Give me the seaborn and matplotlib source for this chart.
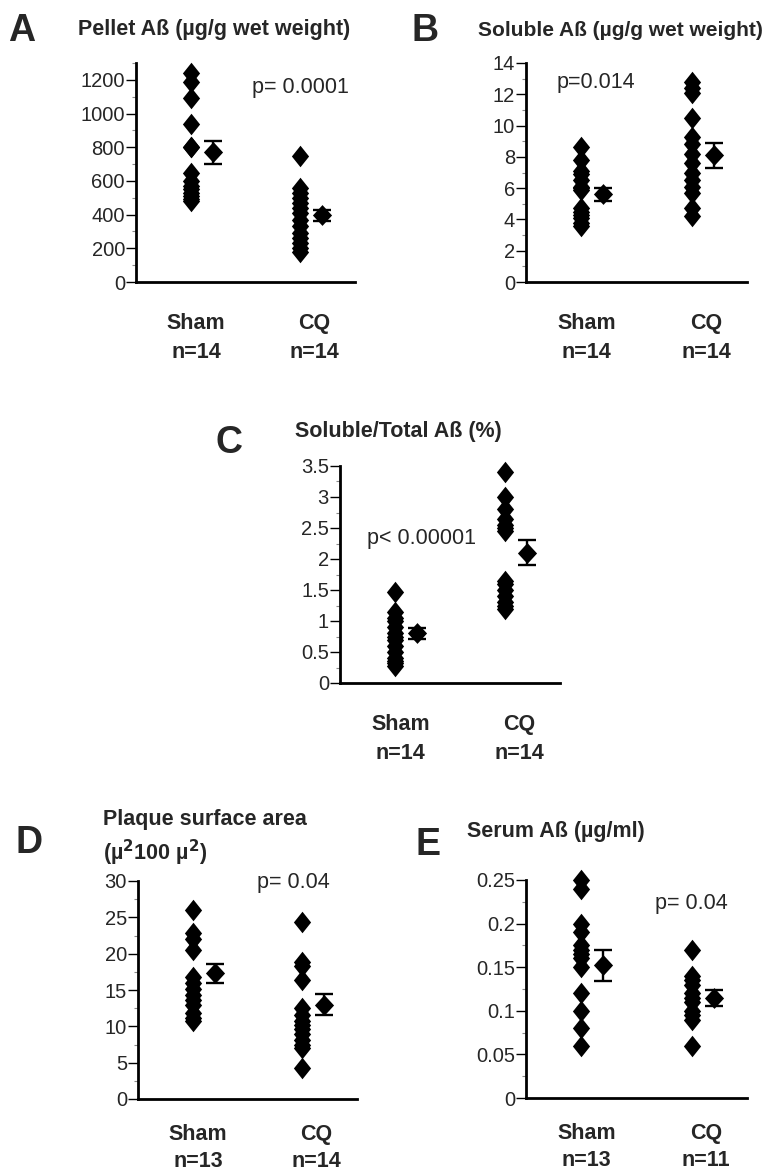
import numpy as np
import pandas as pd
import matplotlib
matplotlib.use("Agg")
import matplotlib.pyplot as plt
import seaborn as sns
from matplotlib.ticker import MultipleLocator

# Individual values (Sham / CQ)
groups = ["Sham", "CQ"]

pellet_sham = [1240, 1185, 1090, 940, 800, 800, 650, 600, 570, 550, 530, 510, 490, 480]
pellet_cq = [750, 560, 530, 500, 470, 440, 410, 370, 330, 290, 260, 230, 200, 180]
pellet_mean = [770, 395]
pellet_sem = [68, 35]

soluble_sham = [8.6, 7.8, 7.1, 6.9, 6.5, 6.1, 6.0, 5.9, 4.7, 4.5, 4.3, 4.1, 3.8, 3.6]
soluble_cq = [12.8, 12.4, 12.1, 10.5, 9.3, 8.8, 8.2, 7.6, 7.0, 6.5, 6.1, 5.7, 4.7, 4.2]
soluble_mean = [5.6, 8.1]
soluble_sem = [0.4, 0.8]

ratio_sham = [1.47, 1.15, 1.05, 1.0, 0.9, 0.8, 0.75, 0.7, 0.6, 0.5, 0.4, 0.35, 0.32, 0.28]
ratio_cq = [3.4, 3.0, 2.8, 2.65, 2.55, 2.5, 2.45, 1.65, 1.6, 1.5, 1.4, 1.3, 1.25, 1.2]
ratio_mean = [0.8, 2.1]
ratio_sem = [0.09, 0.2]

plaque_sham = [26.0, 22.8, 22.0, 20.5, 16.8, 16.0, 15.2, 14.3, 13.6, 12.9, 11.8, 11.1, 10.8]
plaque_cq = [24.3, 18.8, 18.3, 16.4, 12.5, 11.6, 10.8, 10.2, 9.7, 9.0, 8.1, 7.5, 7.0, 4.3]
plaque_mean = [17.3, 13.0]
plaque_sem = [1.3, 1.5]

serum_sham = [0.25, 0.24, 0.20, 0.19, 0.175, 0.17, 0.165, 0.16, 0.15, 0.12, 0.10, 0.08, 0.06]
serum_cq = [0.17, 0.14, 0.135, 0.13, 0.12, 0.115, 0.11, 0.10, 0.095, 0.09, 0.06]
serum_mean = [0.152, 0.115]
serum_sem = [0.018, 0.009]

sns.set_style("white")
plt.rcParams["font.family"] = ["Liberation Sans", "DejaVu Sans"]

W, H = 780, 1176
fig = plt.figure(figsize=(W / 100, H / 100), dpi=100)

# tall-ish diamond like the original
diamond = [(0, 1), (0.8, 0), (0, -1), (-0.8, 0)]
mean_diamond = [(0, 1), (0.92, 0), (0, -1), (-0.92, 0)]


def px_axes(left, right, top, bottom):
    return fig.add_axes([left / W, 1 - bottom / H, (right - left) / W, (bottom - top) / H])


def panel(ax, sham, cq, mean, sem, ylim, major, minor, n, ptext, ppos, fmt=None,
          xpad=22, lsp=1.5):
    df = pd.DataFrame({"group": ["Sham"] * len(sham) + ["CQ"] * len(cq),
                       "value": sham + cq})
    sns.stripplot(data=df, x="group", y="value", order=groups, jitter=False,
                  marker=diamond, color="black", size=15.5, linewidth=0, ax=ax)
    for c in ax.collections:
        c.set_clip_on(False)
    xs = np.arange(len(groups)) + 0.2
    ax.errorbar(xs, mean, yerr=sem, fmt="none", ecolor="black", elinewidth=1.7,
                capsize=6.5, capthick=1.7)
    ax.scatter(xs, mean, marker=mean_diamond, s=15 ** 2, color="black", linewidths=0, zorder=3)
    ax.set_xlim(-0.5, 1.5)
    ax.set_ylim(*ylim)
    ax.yaxis.set_major_locator(MultipleLocator(major))
    ax.yaxis.set_minor_locator(MultipleLocator(minor))
    if fmt:
        ax.yaxis.set_major_formatter(fmt)
    ax.set_xticks([0.05, 1.13])
    ax.set_xticklabels([f"Sham\nn={n[0]}", f"CQ\nn={n[1]}"], fontsize=15.5,
                       fontweight="bold", linespacing=lsp)
    ax.tick_params(axis="x", length=0, pad=xpad)
    ax.tick_params(axis="y", which="major", direction="out", length=7, width=1,
                   color="black", labelsize=14.5, pad=1, left=True)
    ax.tick_params(axis="y", which="minor", direction="out", length=3, width=0.8,
                   color="#888888", left=True)
    for s in ["top", "right"]:
        ax.spines[s].set_visible(False)
    for s in ["left", "bottom"]:
        ax.spines[s].set_linewidth(2)
        ax.spines[s].set_color("black")
    ax.set_xlabel("")
    ax.set_ylabel("")
    ax.text(ppos[0], ppos[1], ptext, transform=ax.transAxes, fontsize=15.5,
            va="center", ha="left")


def gfmt(v, pos):
    return f"{v:g}"


def ftext(x, y, s, **kw):
    fig.text(x / W, 1 - y / H, s, va="center", ha="left", **kw)


title_size = 15.5

# A
axA = px_axes(136, 355, 63, 282)
panel(axA, pellet_sham, pellet_cq, pellet_mean, pellet_sem, (0, 1300), 200, 100,
      (14, 14), "p= 0.0001", (0.53, 0.886))
ftext(8, 31, "A", fontsize=27, fontweight="bold")
ftext(78, 30, "Pellet A\u00df (\u00b5g/g wet weight)", fontsize=title_size, fontweight="bold")

# B
axB = px_axes(526, 747, 63, 282)
panel(axB, soluble_sham, soluble_cq, soluble_mean, soluble_sem, (0, 14), 2, 1,
      (14, 14), "p=0.014", (0.14, 0.909))
ftext(411, 31, "B", fontsize=27, fontweight="bold")
ftext(478, 30, "Soluble A\u00df (\u00b5g/g wet weight)", fontsize=title_size - 0.5, fontweight="bold")

# C
axC = px_axes(340, 560, 466, 683)
panel(axC, ratio_sham, ratio_cq, ratio_mean, ratio_sem, (0, 3.5), 0.5, 0.25,
      (14, 14), "p< 0.00001", (0.123, 0.664), fmt=plt.FuncFormatter(gfmt))
ftext(215, 443, "C", fontsize=27, fontweight="bold")
ftext(295, 432, "Soluble/Total A\u00df (%)", fontsize=title_size, fontweight="bold")

# D
axD = px_axes(138, 357, 881, 1099)
panel(axD, plaque_sham, plaque_cq, plaque_mean, plaque_sem, (0, 30), 5, 2.5,
      (13, 14), "p= 0.04", (0.543, 0.995), xpad=18, lsp=1.4)
ftext(15, 843, "D", fontsize=27, fontweight="bold")
ftext(103, 820, "Plaque surface area", fontsize=title_size, fontweight="bold")
ftext(103, 853, "(\u00b5$^\\mathbf{2}$100 \u00b5$^\\mathbf{2}$)", fontsize=title_size, fontweight="bold")

# E
axE = px_axes(526, 747, 880, 1098)
panel(axE, serum_sham, serum_cq, serum_mean, serum_sem, (0, 0.25), 0.05, 0.025,
      (13, 11), "p= 0.04", (0.584, 0.894), fmt=plt.FuncFormatter(gfmt), xpad=18, lsp=1.4)
ftext(416, 845, "E", fontsize=27, fontweight="bold")
ftext(467, 832, "Serum A\u00df (\u00b5g/ml)", fontsize=title_size, fontweight="bold")

fig.savefig("out.png", dpi=100)
